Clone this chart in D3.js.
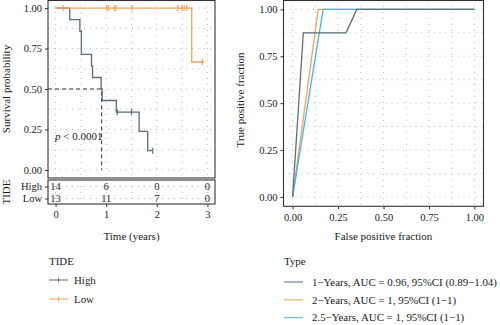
<!DOCTYPE html>
<html lang="en">
<head>
<meta charset="UTF-8">
<title>TIDE survival and ROC</title>
<script src="https://d3js.org/d3.v7.min.js"></script>
<style>
  body { margin: 0; background: #fff; }
  svg text { font-family: "Liberation Serif", "DejaVu Serif", serif; fill: #1a1a1a; }
  .grid line { stroke: #bdbdbd; stroke-width: 1; stroke-dasharray: 1,5; }
</style>
</head>
<body>
<div id="chart"></div>
<script>
// Kaplan-Meier: step times and survival after each step
const highTimes = [0, 0.28, 0.48, 0.51, 0.71, 0.73, 0.90, 0.92, 1.20, 1.65, 1.82];
const highSurv  = [1, 0.929, 0.857, 0.714, 0.643, 0.571, 0.5, 0.429, 0.357, 0.238, 0.119];
const highEnd = 1.92;
const highCensor = [1.22, 1.50, 1.92];
const lowTimes = [0, 2.69];
const lowSurv  = [1, 0.667];
const lowEnd = 2.93;
const lowCensor = [0.15, 1.01, 1.05, 1.17, 1.19, 1.51, 2.41, 2.50, 2.54, 2.59, 2.90];
const medianTime = 0.91;

// number at risk
const riskGroups = ["High", "Low"];
const riskTimes = [0, 1, 2, 3];
const riskHigh = [14, 6, 0, 0];
const riskLow  = [13, 11, 7, 0];

// ROC curves
const rocNames = ["1\u2212Years, AUC = 0.96, 95%CI (0.89\u22121.04)",
                  "2\u2212Years, AUC = 1, 95%CI (1\u22121)",
                  "2.5\u2212Years, AUC = 1, 95%CI (1\u22121)"];
const roc1Fpr = [0, 0.059, 0.294, 0.353, 1];
const roc1Tpr = [0, 0.875, 0.875, 1, 1];
const roc2Fpr = [0, 0.141, 1];
const roc2Tpr = [0, 1, 1];
const roc3Fpr = [0, 0.168, 1];
const roc3Tpr = [0, 1, 1];

const survTicks = [0, 0.25, 0.5, 0.75, 1];
const rocTicks = [0, 0.25, 0.5, 0.75, 1];

const colHigh = "#5b6e77", colLow = "#f4a459", colBlue = "#45b6e6";
const tickFs = 10.5, titleFs = 11, legFs = 10.9;

const svg = d3.select("#chart").append("svg")
  .attr("width", 500).attr("height", 325);

const fmt = d3.format(".2f");

function styleAxis(g) {
  g.select(".domain").remove();
  g.selectAll(".tick line").attr("stroke", "#333");
  g.selectAll("text").attr("font-size", tickFs).attr("font-family", "Liberation Serif").attr("fill", "#1a1a1a");
}

// ---------- KM panel ----------
const x = d3.scaleLinear().domain([-0.15, 3.15]).range([48, 215]);
const y = d3.scaleLinear().domain([-0.05, 1.05]).range([178, 0]);

const km = svg.append("g");
const grid1 = km.append("g").attr("class", "grid");
d3.range(0, 3.01, 0.5).forEach(t => grid1.append("line")
  .attr("x1", x(t)).attr("x2", x(t)).attr("y1", y(1.05)).attr("y2", y(-0.05)));
d3.range(0, 1.01, 0.125).forEach(s => grid1.append("line")
  .attr("x1", x(-0.15)).attr("x2", x(3.15)).attr("y1", y(s)).attr("y2", y(s)));

const stepLine = d3.line().x(d => x(d[0])).y(d => y(d[1])).curve(d3.curveStepAfter);
function steps(times, surv, end) {
  const pts = times.map((t, i) => [t, surv[i]]);
  pts.push([end, surv[surv.length - 1]]);
  return pts;
}
function survAt(times, surv, t) {
  let s = surv[0];
  times.forEach((tt, i) => { if (tt <= t) s = surv[i]; });
  return s;
}

// median dashed line
km.append("path")
  .attr("d", `M${x(-0.15)},${y(0.5)}H${x(medianTime)}V${y(0)}`)
  .attr("fill", "none").attr("stroke", "#333").attr("stroke-width", 1)
  .attr("stroke-dasharray", "4,3");

[[highTimes, highSurv, highEnd, highCensor, colHigh],
 [lowTimes, lowSurv, lowEnd, lowCensor, colLow]].forEach(([t, s, e, c, col]) => {
  km.append("path").attr("d", stepLine(steps(t, s, e)))
    .attr("fill", "none").attr("stroke", col).attr("stroke-width", 1.3);
  km.selectAll(null).data(c).join("line")
    .attr("x1", d => x(d)).attr("x2", d => x(d))
    .attr("y1", d => y(survAt(t, s, d)) - 3).attr("y2", d => y(survAt(t, s, d)) + 3)
    .attr("stroke", col).attr("stroke-width", 1.2);
});

km.append("text").attr("x", 55).attr("y", 140).attr("font-size", titleFs)
  .html('<tspan font-style="italic">p</tspan> &lt; 0.0001');

km.append("rect").attr("x", 48).attr("y", 0.5).attr("width", 167).attr("height", 177.5)
  .attr("fill", "none").attr("stroke", "#333").attr("stroke-width", 1.1);

km.append("g").attr("transform", "translate(48,0)")
  .call(d3.axisLeft(y).tickValues(survTicks).tickFormat(fmt).tickSize(3).tickPadding(3))
  .call(styleAxis);

km.append("text").attr("transform", "translate(10,89) rotate(-90)")
  .attr("text-anchor", "middle").attr("font-size", titleFs).text("Survival probability");

// ---------- risk table ----------
const ry = d3.scalePoint().domain(riskGroups).range([186.5, 198.5]);
const risk = svg.append("g");
const grid2 = risk.append("g").attr("class", "grid");
d3.range(0, 3.01, 0.5).forEach(t => grid2.append("line")
  .attr("x1", x(t)).attr("x2", x(t)).attr("y1", 180).attr("y2", 204));
riskGroups.forEach(gn => grid2.append("line")
  .attr("x1", 48).attr("x2", 215).attr("y1", ry(gn)).attr("y2", ry(gn)));

[[riskHigh, "High"], [riskLow, "Low"]].forEach(([vals, gn]) => {
  risk.selectAll(null).data(vals).join("text")
    .attr("x", (d, i) => x(riskTimes[i])).attr("y", ry(gn) + 3.6)
    .attr("text-anchor", "middle").attr("font-size", tickFs).text(d => d);
});
risk.append("rect").attr("x", 48).attr("y", 180).attr("width", 167).attr("height", 24)
  .attr("fill", "none").attr("stroke", "#333").attr("stroke-width", 1.1);

risk.append("g").attr("transform", "translate(48,0)")
  .call(d3.axisLeft(ry).tickSize(3).tickPadding(3))
  .call(styleAxis);
risk.append("g").attr("transform", "translate(0,204)")
  .call(d3.axisBottom(x).tickValues(riskTimes).tickFormat(d3.format("d")).tickSize(3).tickPadding(4))
  .call(styleAxis);

risk.append("text").attr("transform", "translate(10,192) rotate(-90)")
  .attr("text-anchor", "middle").attr("font-size", titleFs).text("TIDE");
risk.append("text").attr("x", 131.5).attr("y", 240)
  .attr("text-anchor", "middle").attr("font-size", titleFs).text("Time (years)");

// KM legend
const leg1 = svg.append("g");
leg1.append("text").attr("x", 49).attr("y", 265).attr("font-size", legFs).text("TIDE");
[["High", colHigh, 280], ["Low", colLow, 299]].forEach(([name, col, yy]) => {
  leg1.append("line").attr("x1", 49).attr("x2", 68).attr("y1", yy).attr("y2", yy)
    .attr("stroke", col).attr("stroke-width", 1.3).attr("opacity", 0.8);
  leg1.append("line").attr("x1", 58.5).attr("x2", 58.5).attr("y1", yy - 2.5).attr("y2", yy + 2.5)
    .attr("stroke", col).attr("stroke-width", 1).attr("opacity", 0.8);
  leg1.append("text").attr("x", 74).attr("y", yy + 3.7).attr("font-size", legFs).text(name);
});

// ---------- ROC panel ----------
const rx = d3.scaleLinear().domain([-0.05, 1.05]).range([283.5, 483.5]);
const rY = d3.scaleLinear().domain([-0.05, 1.05]).range([206.3, 0]);
const rp = svg.append("g");
const grid3 = rp.append("g").attr("class", "grid");
d3.range(0, 1.01, 0.125).forEach(v => {
  grid3.append("line").attr("x1", rx(v)).attr("x2", rx(v)).attr("y1", rY(1.05)).attr("y2", rY(-0.05));
  grid3.append("line").attr("x1", rx(-0.05)).attr("x2", rx(1.05)).attr("y1", rY(v)).attr("y2", rY(v));
});

const rocLine = d3.line().x(d => rx(d[0])).y(d => rY(d[1]));
[[roc2Fpr, roc2Tpr, colLow], [roc3Fpr, roc3Tpr, colBlue], [roc1Fpr, roc1Tpr, colHigh]]
  .forEach(([f, t, col]) => {
    rp.append("path").attr("d", rocLine(f.map((v, i) => [v, t[i]])))
      .attr("fill", "none").attr("stroke", col).attr("stroke-width", 1.3);
  });

rp.append("rect").attr("x", 283.5).attr("y", 0.5).attr("width", 200).attr("height", 205.8)
  .attr("fill", "none").attr("stroke", "#333").attr("stroke-width", 1.1);

rp.append("g").attr("transform", "translate(283.5,0)")
  .call(d3.axisLeft(rY).tickValues(rocTicks).tickFormat(fmt).tickSize(3).tickPadding(3))
  .call(styleAxis);
rp.append("g").attr("transform", "translate(0,206.3)")
  .call(d3.axisBottom(rx).tickValues(rocTicks).tickFormat(fmt).tickSize(3).tickPadding(4))
  .call(styleAxis);

rp.append("text").attr("transform", "translate(244,100) rotate(-90)")
  .attr("text-anchor", "middle").attr("font-size", titleFs).text("True positive fraction");
rp.append("text").attr("x", 383.5).attr("y", 240)
  .attr("text-anchor", "middle").attr("font-size", titleFs).text("False positive fraction");

// ROC legend
const leg2 = svg.append("g");
leg2.append("text").attr("x", 284).attr("y", 265).attr("font-size", legFs).text("Type");
[colHigh, colLow, colBlue].forEach((col, i) => {
  const yy = 282 + i * 17.8;
  leg2.append("line").attr("x1", 284).attr("x2", 303).attr("y1", yy).attr("y2", yy)
    .attr("stroke", col).attr("stroke-width", 1.3).attr("opacity", 0.8);
  leg2.append("text").attr("x", 312).attr("y", yy + 3.7).attr("font-size", legFs).text(rocNames[i]);
});
</script>
</body>
</html>
